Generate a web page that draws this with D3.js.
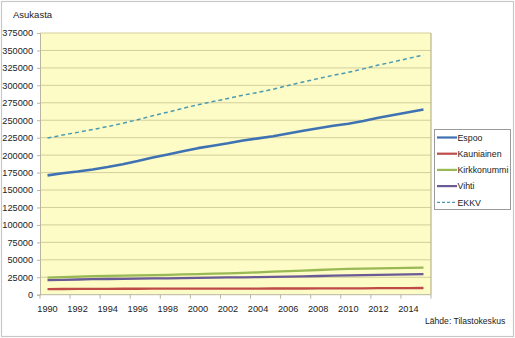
<!DOCTYPE html>
<html>
<head>
<meta charset="utf-8">
<script src="https://cdn.jsdelivr.net/npm/d3@7"></script>
<style>
  html, body { margin: 0; padding: 0; background: #fff; }
  svg text { font-family: "Liberation Sans", Arial, sans-serif; fill: #222; }
</style>
</head>
<body>
<svg id="chart" width="515" height="338"></svg>
<script>
// Population by municipality, 1990–2015
const years = d3.range(1990, 2016);
const tickYears = d3.range(1990, 2016, 2);
const yTicks = d3.range(0, 375001, 25000);

const espoo = [171000, 174000, 176500, 179500, 183000, 187000, 191500, 196500, 201000, 205500,
               210000, 213500, 217000, 221000, 224000, 227000, 231000, 235000, 238500, 242000,
               245000, 249000, 253500, 257500, 261500, 265500];
const kauniainen = [8100, 8200, 8300, 8400, 8400, 8500, 8500, 8600, 8600, 8700,
                    8700, 8700, 8800, 8800, 8800, 8900, 8900, 8900, 9000, 9000,
                    9100, 9200, 9300, 9400, 9500, 9600];
const kirkkonummi = [24500, 25200, 26000, 26600, 27000, 27300, 27700, 28100, 28500, 29000,
                     29500, 30100, 30700, 31300, 32000, 33000, 33800, 34600, 35400, 36200,
                     36900, 37400, 37800, 38100, 38400, 38700];
const vihti = [20800, 21300, 21800, 22200, 22500, 22800, 23100, 23300, 23500, 23800,
               24100, 24400, 24700, 24900, 25100, 25500, 26000, 26400, 26800, 27200,
               27600, 28000, 28400, 28800, 29200, 29600];
const ekkv = [224400, 228700, 232600, 236700, 240900, 245600, 250800, 256500, 261600, 267000,
              272300, 276700, 281200, 286000, 289900, 294400, 299700, 304900, 309700, 314400,
              318600, 323600, 329000, 333700, 338600, 343400];

const series = [
  { name: "Espoo",       values: espoo,       color: "#3f72b2", width: 2.6, dash: null },
  { name: "Kauniainen",  values: kauniainen,  color: "#be4b48", width: 2.3, dash: null },
  { name: "Kirkkonummi", values: kirkkonummi, color: "#98b954", width: 2.3, dash: null },
  { name: "Vihti",       values: vihti,       color: "#6a5a96", width: 2.3, dash: null },
  { name: "EKKV",        values: ekkv,        color: "#4a9bb0", width: 1.5, dash: "4,3" }
];

const svg = d3.select("#chart");
const W = 515, H = 338;
const plot = { left: 40, right: 431, top: 33, bottom: 294.7 };

// outer frame
svg.append("rect").attr("x", 1.5).attr("y", 1.5).attr("width", W - 3).attr("height", H - 3)
  .attr("fill", "#fff").attr("stroke", "#c8c8c8").attr("stroke-width", 1.2);

const x = d3.scaleBand().domain(years).range([plot.left, plot.right]).padding(0);
const xc = d => x(d) + x.bandwidth() / 2;
const y = d3.scaleLinear().domain([0, 375000]).range([plot.bottom, plot.top]);

// plot area background
svg.append("rect").attr("x", plot.left).attr("y", plot.top)
  .attr("width", plot.right - plot.left).attr("height", plot.bottom - plot.top)
  .attr("fill", "#fdfbc6");

// horizontal gridlines
svg.append("g").selectAll("line").data(yTicks.filter(v => v > 0)).join("line")
  .attr("x1", plot.left).attr("x2", plot.right)
  .attr("y1", d => y(d)).attr("y2", d => y(d))
  .attr("stroke", "#d3cf9c").attr("stroke-width", 1);

// plot area right border
svg.append("line").attr("x1", plot.right).attr("x2", plot.right)
  .attr("y1", plot.top).attr("y2", plot.bottom)
  .attr("stroke", "#a9a58a").attr("stroke-width", 1);

// y axis
const yAxis = d3.axisLeft(y).tickValues(yTicks).tickSize(3).tickPadding(4).tickFormat(d3.format("d"));
const gy = svg.append("g").attr("transform", `translate(${plot.left},0)`).call(yAxis);
gy.select(".domain").attr("stroke", "#b9b6a0");
gy.selectAll(".tick line").attr("stroke", "#b9b6a0");
gy.selectAll("text").attr("font-size", "9.2px").attr("fill", "#222")
  .attr("font-family", "Liberation Sans, Arial, sans-serif");

// x axis: category ticks between every two years, labels centred on categories
const gx = svg.append("g").attr("transform", `translate(0,${plot.bottom})`);
gx.append("line").attr("x1", plot.left).attr("x2", plot.right).attr("y1", 0).attr("y2", 0)
  .attr("stroke", "#b9b6a0");
gx.selectAll("line.tk").data(tickYears.concat([2016])).join("line").attr("class", "tk")
  .attr("x1", d => d === 2016 ? plot.right : x(d)).attr("x2", d => d === 2016 ? plot.right : x(d))
  .attr("y1", 0).attr("y2", 4).attr("stroke", "#b9b6a0");
gx.selectAll("text").data(tickYears).join("text")
  .attr("x", d => xc(d)).attr("y", 17).attr("text-anchor", "middle")
  .attr("font-size", "9.2px").text(d => d);

// series lines
const line = d3.line().x((d, i) => xc(years[i])).y(d => y(d));
svg.append("g").selectAll("path").data(series).join("path")
  .attr("d", s => line(s.values))
  .attr("fill", "none")
  .attr("stroke", s => s.color)
  .attr("stroke-width", s => s.width)
  .attr("stroke-dasharray", s => s.dash)
  .attr("stroke-linejoin", "round");

// title of the value axis
svg.append("text").attr("x", 13).attr("y", 18).attr("font-size", "9.5px").text("Asukasta");

// legend
const lg = svg.append("g");
lg.append("rect").attr("x", 434.5).attr("y", 129.5).attr("width", 76).attr("height", 80)
  .attr("fill", "#fff").attr("stroke", "#9a9a9a").attr("stroke-width", 1);
const items = lg.selectAll("g").data(series).join("g")
  .attr("transform", (d, i) => `translate(0,${137.5 + i * 16.2})`);
items.append("line").attr("x1", 437).attr("x2", 457).attr("y1", 0).attr("y2", 0)
  .attr("stroke", d => d.color).attr("stroke-width", d => d.dash ? 1.3 : 2.2)
  .attr("stroke-dasharray", d => d.dash ? "3,2" : null);
items.append("text").attr("x", 457.5).attr("y", 3.3).attr("font-size", "8.8px").text(d => d.name);

// source note
svg.append("text").attr("x", 425).attr("y", 324).attr("font-size", "8.6px").text("Lähde: Tilastokeskus");
</script>
</body>
</html>
